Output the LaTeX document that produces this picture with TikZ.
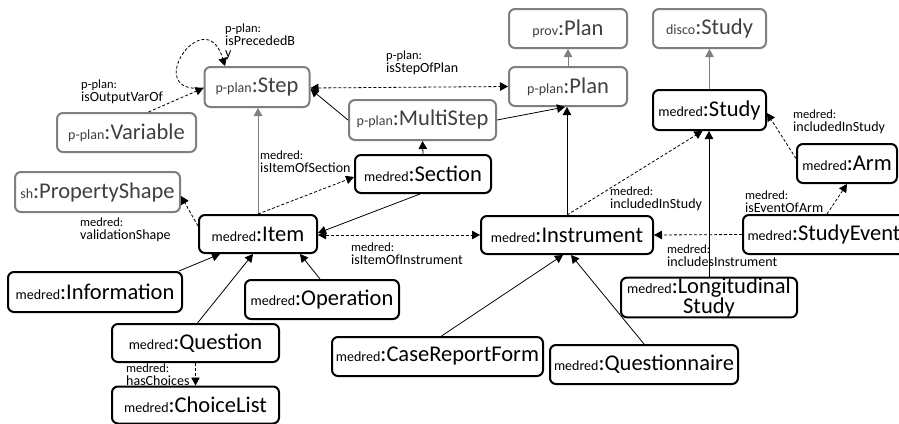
\documentclass[tikz,border=0pt]{standalone}
\usepackage{fontspec}
\setmainfont{Carlito}
\usetikzlibrary{arrows.meta,calc}
\definecolor{gbord}{HTML}{7F7F7F}
\definecolor{gtext}{HTML}{404040}
\newcommand{\bx}[2]{{\fontsize{14}{14}\selectfont #1}:#2}
\newcommand{\lbl}[2]{#1\\{\fontsize{14}{12.5}\selectfont #2}}
\tikzset{
  base/.style={rounded corners=6pt, line width=2pt, inner sep=0pt, align=center,
    font=\fontsize{22.5}{16}\selectfont},
  bbox/.style={base, draw=black, text=black},
  gbox/.style={base, draw=gbord, text=gtext},
  tip/.style={-{Triangle[length=8pt,width=8.5pt]}},
  rel/.style={tip, line width=0.8pt, black},
  grel/.style={tip, line width=0.8pt, gbord},
  dep/.style={tip, line width=0.8pt, black, dash pattern=on 3pt off 2pt},
  lab/.style={anchor=north west, inner sep=0pt, align=left, font=\fontsize{12.5}{12.5}\selectfont}
}
\begin{document}
\begin{tikzpicture}[x=1pt,y=-1pt]
\useasboundingbox[fill=white] (0,0) rectangle (899,423);
% boxes
\node[gbox, minimum width=105pt, minimum height=40pt] (step) at (257,87) {\bx{p-plan}{Step}};
\node[gbox, minimum width=139pt, minimum height=39pt] (variable) at (126.5,132.5) {\bx{p-plan}{Variable}};
\node[gbox, minimum width=118pt, minimum height=39pt] (provplan) at (568,28.5) {\bx{prov}{Plan}};
\node[gbox, minimum width=118pt, minimum height=39pt] (pplan) at (568,86.5) {\bx{p-plan}{Plan}};
\node[gbox, minimum width=113pt, minimum height=39pt] (disco) at (709.5,28.5) {\bx{disco}{Study}};
\node[bbox, minimum width=113pt, minimum height=40pt] (mstudy) at (709.5,110) {\bx{medred}{Study}};
\node[gbox, minimum width=147pt, minimum height=40pt] (multistep) at (422.5,120) {\bx{p-plan}{MultiStep}};
\node[bbox, minimum width=136pt, minimum height=38pt] (section) at (423,174) {\bx{medred}{Section}};
\node[gbox, minimum width=165pt, minimum height=40pt] (propshape) at (97.5,192) {\bx{sh}{PropertyShape}};
\node[bbox, minimum width=118pt, minimum height=38pt] (item) at (258,234) {\bx{medred}{Item}};
\node[bbox, minimum width=172pt, minimum height=38pt] (instrument) at (567,235) {\bx{medred}{Instrument}};
\node[bbox, minimum width=100pt, minimum height=39pt] (arm) at (847,163.5) {\bx{medred}{Arm}};
\node[bbox, minimum width=162pt, minimum height=39pt] (studyevent) at (824,234.5) {\bx{medred}{StudyEvent}};
\node[bbox, minimum width=174pt, minimum height=40pt] (information) at (95,292) {\bx{medred}{Information}};
\node[bbox, minimum width=154pt, minimum height=39pt] (operation) at (322,299.5) {\bx{medred}{Operation}};
\node[bbox, minimum width=167pt, minimum height=38pt] (question) at (195.5,343) {\bx{medred}{Question}};
\node[bbox, minimum width=167pt, minimum height=37pt] (choicelist) at (195.5,405) {\bx{medred}{ChoiceList}};
\node[bbox, minimum width=211pt, minimum height=39pt] (crf) at (437.5,356.5) {\bx{medred}{CaseReportForm}};
\node[bbox, minimum width=188pt, minimum height=39pt] (questionnaire) at (644,364.5) {\bx{medred}{Questionnaire}};
\node[bbox, minimum width=176pt, minimum height=39pt] (longstudy) at (709,297.5) {{\fontsize{14}{14}\selectfont medred}:Longitudinal\\Study};
% connectors
\draw[dep] ([yshift=-1pt]step.west) .. controls (140,95) and (205,0) .. ([xshift=-32pt]step.north);
\draw[dep] ([xshift=22pt]variable.north) -- ([yshift=-1pt]step.west);
\draw[dep, {Triangle[length=8pt,width=8.5pt]}-{Triangle[length=8pt,width=8.5pt]}] ([yshift=-1pt]step.east) -- (pplan.west);
\draw[rel] (multistep.west) -- ([yshift=-2pt]step.east);
\draw[rel] (multistep.east) -- ([xshift=-3pt]pplan.south);
\draw[grel] (pplan.north) -- (provplan.south);
\draw[grel] (mstudy.north) -- (disco.south);
\draw[rel] (section.north) -- (multistep.south);
\draw[grel] (item.north) -- (item.north |- step.south);
\draw[dep] (item.north) -- ([yshift=-3pt]section.west);
\draw[rel] ([xshift=-3pt]section.south) -- ([yshift=1pt]item.east);
\draw[dep, {Triangle[length=8pt,width=8.5pt]}-{Triangle[length=8pt,width=8.5pt]}] ([yshift=-1pt]item.east) -- (instrument.west);
\draw[dep] ([yshift=8pt]item.west) -- ([yshift=-4pt]propshape.east);
\draw[rel] (instrument.north) -- (instrument.north |- pplan.south);
\draw[dep] (instrument.north) -- ([xshift=-7pt]mstudy.south);
\draw[dep] ([yshift=5pt]arm.west) -- ([yshift=-3pt]mstudy.east);
\draw[dep] ([xshift=3pt]studyevent.north) -- (arm.south);
\draw[dep] (studyevent.west) -- (instrument.east);
\draw[rel] (longstudy.north) -- (longstudy.north |- mstudy.south);
\draw[rel] ([xshift=-4pt]information.north east) -- ([xshift=-38pt]item.south);
\draw[rel] ([xshift=2pt]question.north) -- ([xshift=-5pt]item.south);
\draw[rel] ([xshift=-2pt]operation.north) -- ([xshift=42pt]item.south);
\draw[dep] (question.south) -- (choicelist.north);
\draw[rel] ([xshift=4pt]crf.north) -- ([xshift=-4pt]instrument.south);
\draw[rel] (questionnaire.north) -- ([xshift=4pt]instrument.south);
% labels
\node[lab] (l1) at (225,24) {p-plan:\\{\fontsize{14}{12.5}\selectfont isPrecededB}\\{\fontsize{14}{12.5}\selectfont y}};
\node[lab] (l2) at (81,80) {\lbl{p-plan:}{isOutputVarOf}};
\node[lab] (l3) at (386,51) {\lbl{p-plan:}{isStepOfPlan}};
\node[lab] (l4) at (260,151) {\lbl{medred:}{isItemOfSection}};
\node[lab] (l5) at (80,218) {\lbl{medred:}{validationShape}};
\node[lab] (l6) at (351,243) {\lbl{medred:}{isItemOfInstrument}};
\node[lab] (l7) at (610,187) {\lbl{medred:}{includedInStudy}};
\node[lab] (l8) at (793,110) {\lbl{medred:}{includedInStudy}};
\node[lab] (l9) at (745,191) {\lbl{medred:}{isEventOfArm}};
\node[lab] (l10) at (667,245) {\lbl{medred:}{includesInstrument}};
\node[lab] (l11) at (126,364) {\lbl{medred:}{hasChoices}};
\end{tikzpicture}
\end{document}
